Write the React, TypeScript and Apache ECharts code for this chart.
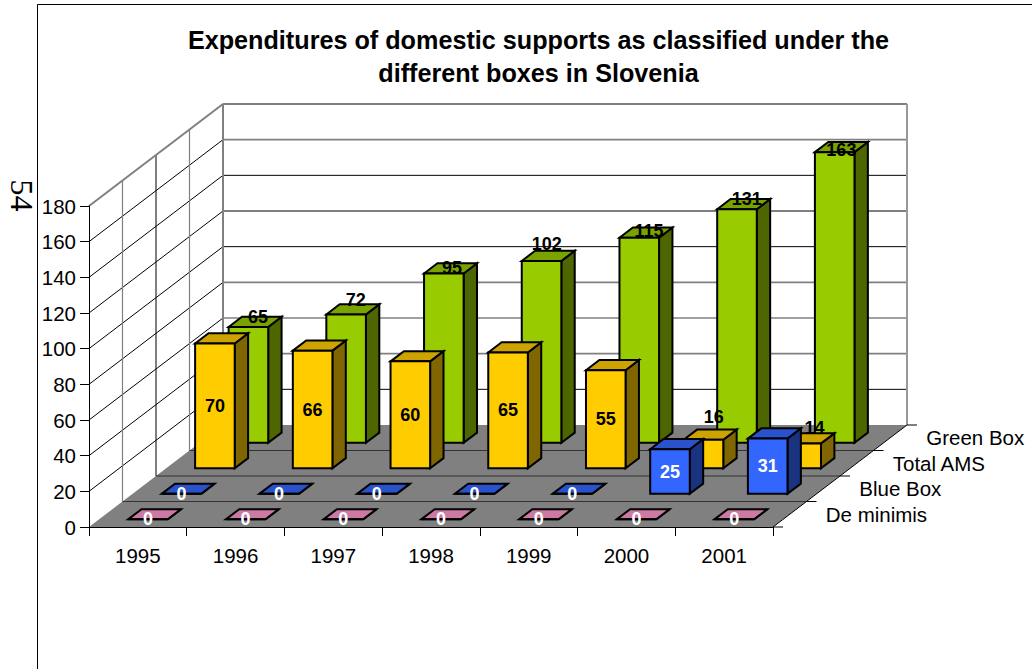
import React, { useEffect, useRef } from "react";
import * as echarts from "echarts";

const years = ["1995", "1996", "1997", "1998", "1999", "2000", "2001"];
const boxNames = ["De minimis", "Blue Box", "Total AMS", "Green Box"];
const deMinimis = [0, 0, 0, 0, 0, 0, 0];
const blueBox = [0, 0, 0, 0, 0, 25, 31];
const totalAms = [70, 66, 60, 65, 55, 16, 14];
const greenBox = [65, 72, 95, 102, 115, 131, 163];
const valueTicks = [0, 20, 40, 60, 80, 100, 120, 140, 160, 180];
const titleLines = [
  "Expenditures of domestic supports as classified under the",
  "different boxes in Slovenia",
];

const FONT = '"Liberation Sans", Arial, sans-serif';
const AXIS_FONT_SIZE = 20.5;

// Oblique projection: screen shift for one row of depth.
const ROW_DX = 33.5;
const ROW_DY = 25.5;
const ROWS = boxNames.length;
const BAR_WIDTH_RATIO = 0.405;
const BAR_DEPTH_RATIO = 0.4;

// Back-wall gridlines that come out lighter than the others.
const LIGHT_GRID = new Set([160, 80, 60, 40]);
const GRID_GRAY = "#808080";

// Hand-placed data labels, as shifts from the bar's back top edge.
const greenLabelShift = [
  [3, 0],
  [3, -4],
  [1.5, 5],
  [-1.5, -7],
  [3, 3],
  [3, 0],
  [0, 8],
];
const amsLabelShift: Record<number, number[]> = {
  5: [3.6, -12.4],
  6: [6.5, -5],
};

const line = (x1: number, y1: number, x2: number, y2: number, stroke: string, lineWidth = 1) => ({
  type: "line",
  shape: { x1, y1, x2, y2 },
  style: { stroke, lineWidth },
});

// Side wall, back wall, floor and the depth axis, all projected from the value and category axes.
function renderRoom(_: any, api: any) {
  const band = api.size([1, 0])[0];
  const left = api.coord([0, 0])[0] - band / 2;
  const right = api.coord([years.length - 1, 0])[0] + band / 2;
  const baseY = api.coord([0, 0])[1];
  const topY = api.coord([0, 180])[1];
  const depthX = ROW_DX * ROWS;
  const depthY = ROW_DY * ROWS;
  const children: any[] = [];

  children.push({
    type: "polygon",
    shape: {
      points: [
        [left, topY],
        [left + depthX, topY - depthY],
        [right + depthX, topY - depthY],
        [right + depthX, baseY - depthY],
        [left + depthX, baseY - depthY],
        [left, baseY],
      ],
    },
    style: { fill: "#ffffff" },
  });
  children.push({
    type: "polygon",
    shape: {
      points: [
        [left, baseY],
        [right, baseY],
        [right + depthX, baseY - depthY],
        [left + depthX, baseY - depthY],
      ],
    },
    style: { fill: GRID_GRAY },
  });

  valueTicks.slice(1, -1).forEach((v) => {
    const y = api.coord([0, v])[1];
    children.push(line(left, y, left + depthX, y - depthY, "#000000"));
    children.push(
      line(
        left + depthX,
        y - depthY,
        right + depthX,
        y - depthY,
        LIGHT_GRID.has(v) ? GRID_GRAY : "#000000",
        LIGHT_GRID.has(v) ? 1.6 : 1,
      ),
    );
  });

  for (let r = 1; r < ROWS; r++) {
    const x = left + ROW_DX * r;
    children.push(
      line(x, topY - ROW_DY * r, x, baseY - ROW_DY * r, r === 2 ? "#000000" : GRID_GRAY, r === 2 ? 1 : 1.2),
    );
    const y = baseY - ROW_DY * r;
    children.push(line(x, y, right + ROW_DX * r, y, "#333333"));
    children.push(line(right + ROW_DX * r, y, right + ROW_DX * r + 10, y, "#000000"));
  }

  // Thick grey outline of the walls.
  const x0 = left + depthX;
  const x1 = right + depthX;
  const backTop = topY - depthY;
  const backBase = baseY - depthY;
  children.push(line(left, topY, x0, backTop, GRID_GRAY, 2));
  children.push(line(x0, backTop, x1, backTop, GRID_GRAY, 2));
  children.push(line(x0, backTop, x0, backBase, GRID_GRAY, 2));
  children.push(line(x1, backTop, x1, backBase, "#999999", 2));

  // Depth axis along the floor's right edge.
  children.push(line(right, baseY, x1, backBase, "#000000"));
  children.push(line(right, baseY, right + 10, baseY, "#000000"));
  children.push(line(x1, backBase, x1 + 10, backBase, "#000000"));

  boxNames.forEach((name, r) => {
    children.push({
      type: "text",
      style: {
        text: name,
        x: right + ROW_DX * (r + 0.5) + 36,
        y: baseY - ROW_DY * (r + 0.5),
        fill: "#000000",
        fontSize: AXIS_FONT_SIZE,
        fontFamily: FONT,
        align: "left",
        verticalAlign: "middle",
      },
    });
  });

  return { type: "group", children };
}

type BoxStyle = {
  row: number;
  face: string;
  top: string;
  side: string;
  labelColor: string;
  placeLabel: (i: number, g: any) => number[];
};

// One oblique bar: front face, top face, right face and its value label.
function makeBarRenderer(box: BoxStyle) {
  return (params: any, api: any) => {
    const i = api.value(0);
    const value = api.value(1);
    const band = api.size([1, 0])[0];
    const front = box.row + 0.5 - BAR_DEPTH_RATIO / 2;
    const back = box.row + 0.5 + BAR_DEPTH_RATIO / 2;
    const [cx, yTop] = api.coord([i, value]);
    const yBase = api.coord([i, 0])[1];
    const w = band * BAR_WIDTH_RATIO;

    const fx0 = cx - w / 2 + ROW_DX * front;
    const fx1 = fx0 + w;
    const bx0 = cx - w / 2 + ROW_DX * back;
    const bx1 = bx0 + w;
    const fTop = yTop - ROW_DY * front;
    const fBase = yBase - ROW_DY * front;
    const bTop = yTop - ROW_DY * back;
    const bBase = yBase - ROW_DY * back;

    const outline = { stroke: "#000000", lineWidth: 2, lineJoin: "miter" };
    const poly = (points: number[][], fill: string) => ({
      type: "polygon",
      shape: { points },
      style: { fill, ...outline },
    });
    const [lx, ly] = box.placeLabel(i, {
      faceX: (fx0 + fx1) / 2,
      faceY: (fTop + fBase) / 2,
      topX: (fx0 + bx1) / 2,
      topY: bTop,
    });

    return {
      type: "group",
      children: [
        poly([[fx1, fTop], [bx1, bTop], [bx1, bBase], [fx1, fBase]], box.side),
        poly([[fx0, fTop], [bx0, bTop], [bx1, bTop], [fx1, fTop]], box.top),
        poly([[fx0, fTop], [fx1, fTop], [fx1, fBase], [fx0, fBase]], box.face),
        {
          type: "text",
          style: {
            text: String(value),
            x: lx,
            y: ly,
            fill: box.labelColor,
            fontSize: 18,
            fontWeight: "bold",
            fontFamily: FONT,
            align: "center",
            verticalAlign: "middle",
          },
        },
      ],
    };
  };
}

const onFace = (_: number, g: any) => [g.faceX, g.faceY];

const boxes: { values: number[]; style: BoxStyle }[] = [
  {
    values: greenBox,
    style: {
      row: 3,
      face: "#99CC00",
      top: "#7AA300",
      side: "#4D6600",
      labelColor: "#000000",
      placeLabel: (i, g) => [g.topX + greenLabelShift[i][0], g.topY + greenLabelShift[i][1]],
    },
  },
  {
    values: totalAms,
    style: {
      row: 2,
      face: "#FFCC00",
      top: "#CCA300",
      side: "#806600",
      labelColor: "#000000",
      placeLabel: (i, g) =>
        amsLabelShift[i] ? [g.topX + amsLabelShift[i][0], g.topY + amsLabelShift[i][1]] : [g.faceX, g.faceY],
    },
  },
  {
    values: blueBox,
    style: {
      row: 1,
      face: "#3366FF",
      top: "#2952CC",
      side: "#1A3380",
      labelColor: "#ffffff",
      placeLabel: onFace,
    },
  },
  {
    values: deMinimis,
    style: {
      row: 0,
      face: "#FF99CC",
      top: "#CC7AA3",
      side: "#804D66",
      labelColor: "#ffffff",
      placeLabel: onFace,
    },
  },
];

export default function App() {
  const ref = useRef<HTMLDivElement>(null);

  useEffect(() => {
    const chart = echarts.init(ref.current!, null, { renderer: "svg" });
    chart.setOption({
      animation: false,
      backgroundColor: "#ffffff",
      title: {
        text: titleLines.join("\n"),
        left: 533.5,
        top: 18,
        textAlign: "center",
        textStyle: {
          fontFamily: FONT,
          fontWeight: "bold",
          fontSize: 25.2,
          lineHeight: 33,
          color: "#000000",
        },
      },
      grid: { left: 89, right: 259, top: 206, bottom: 142 },
      xAxis: {
        type: "category",
        data: years,
        z: 10,
        axisLine: { show: true, onZero: false, lineStyle: { color: "#000000", width: 1 } },
        axisTick: { show: true, length: 9, lineStyle: { color: "#000000", width: 1 } },
        axisLabel: { color: "#000000", fontFamily: FONT, fontSize: AXIS_FONT_SIZE, margin: 18 },
        splitLine: { show: false },
      },
      yAxis: {
        type: "value",
        min: 0,
        max: 180,
        interval: 20,
        z: 10,
        axisLine: { show: true, lineStyle: { color: "#000000", width: 1 } },
        axisTick: { show: true, length: 9, lineStyle: { color: "#000000" } },
        axisLabel: { color: "#000000", fontFamily: FONT, fontSize: AXIS_FONT_SIZE, margin: 13 },
        splitLine: { show: false },
      },
      graphic: [
        {
          type: "line",
          shape: { x1: 37.5, y1: 4.5, x2: 37.5, y2: 669 },
          style: { stroke: "#000000", lineWidth: 1 },
        },
        {
          type: "line",
          shape: { x1: 37.5, y1: 4.5, x2: 1032, y2: 4.5 },
          style: { stroke: "#000000", lineWidth: 1 },
        },
        {
          type: "text",
          x: 21.5,
          y: 195.5,
          rotation: -Math.PI / 2,
          style: {
            text: "54",
            fill: "#000000",
            fontFamily: '"Liberation Serif", serif',
            fontSize: 32,
            align: "center",
            verticalAlign: "middle",
          },
        },
      ],
      series: [
        {
          type: "custom",
          silent: true,
          z: 1,
          renderItem: renderRoom,
          data: [[0, 0]],
          encode: { x: 0, y: 1 },
        },
        ...boxes.map((b) => ({
          type: "custom",
          name: boxNames[b.style.row],
          silent: true,
          z: 2,
          renderItem: makeBarRenderer(b.style),
          data: b.values.map((v, i) => [i, v]),
          encode: { x: 0, y: 1 },
        })),
      ],
    });
    return () => chart.dispose();
  }, []);

  return <div ref={ref} style={{ position: "absolute", left: 0, top: 0, width: 1032, height: 669 }} />;
}
